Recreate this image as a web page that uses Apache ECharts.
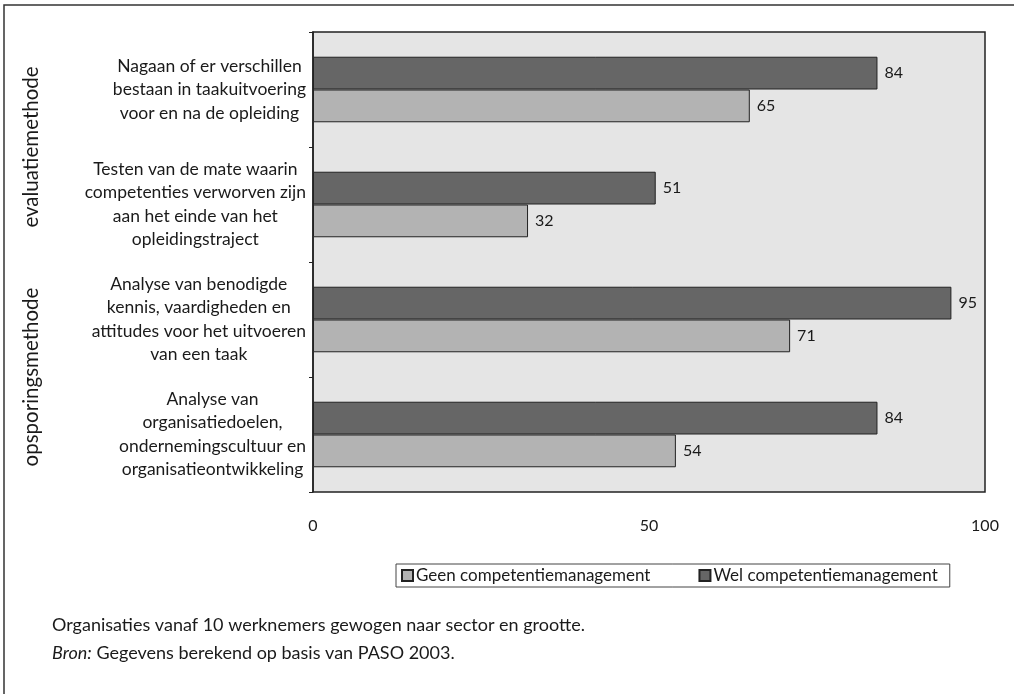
<!DOCTYPE html>
<html>
<head>
<meta charset="utf-8">
<script src="https://cdn.jsdelivr.net/npm/echarts@6/dist/echarts.min.js"></script>
<style>
  html, body { margin: 0; padding: 0; background: #fff; }
  #chart { width: 1014px; height: 694px; }
</style>
</head>
<body>
<div id="chart"></div>
<script>
// categorieën van boven naar beneden
var categories = [
  'Nagaan of er verschillen\nbestaan in taakuitvoering\nvoor en na de opleiding',
  'Testen van de mate waarin\ncompetenties verworven zijn\naan het einde van het\nopleidingstraject',
  'Analyse van benodigde\nkennis, vaardigheden en\nattitudes voor het uitvoeren\nvan een taak',
  'Analyse van\norganisatiedoelen,\nondernemingscultuur en\norganisatieontwikkeling'
]
var groups = ['evaluatiemethode', 'opsporingsmethode']
var geen = [65, 32, 71, 54]
var wel = [84, 51, 95, 84]
var xMin = 0
var xMax = 100
var xStep = 50

var FONT = 'Lato'
var TXT = '#1a1a1a'

var chart = echarts.init(document.getElementById('chart'))
chart.setOption({
  backgroundColor: '#fff',
  textStyle: { fontFamily: FONT, color: TXT },
  // buitenkader
  graphic: [{
    type: 'rect',
    shape: { x: 4, y: 5, width: 1100, height: 1000 },
    style: { fill: 'none', stroke: '#333', lineWidth: 1.5 },
    silent: true
  }],
  title: {
    left: 47,
    top: 606,
    text: '{n|Organisaties vanaf 10 werknemers gewogen naar sector en grootte.}\n{i|Bron:} {n|Gegevens berekend op basis van PASO 2003.}',
    textStyle: {
      fontWeight: 'normal',
      rich: {
        n: { fontFamily: FONT, fontSize: 18, color: TXT, lineHeight: 28 },
        i: { fontFamily: FONT, fontSize: 18, color: TXT, lineHeight: 28, fontStyle: 'italic' }
      }
    }
  },
  legend: {
    left: 396,
    top: 564,
    orient: 'horizontal',
    data: ['Geen competentiemanagement', 'Wel competentiemanagement'],
    icon: 'rect',
    itemWidth: 11,
    itemHeight: 11,
    itemGap: 48,
    padding: [3, 12, 3, 5],
    borderColor: '#444',
    borderWidth: 1,
    textStyle: { fontFamily: FONT, fontSize: 17, color: TXT, padding: [0, 0, 0, -2] }
  },
  grid: {
    left: 313,
    right: 29,
    top: 32,
    bottom: 202,
    show: true,
    backgroundColor: '#e5e5e5',
    borderColor: '#222',
    borderWidth: 1.5
  },
  xAxis: {
    type: 'value',
    min: xMin,
    max: xMax,
    interval: xStep,
    axisLine: { show: false },
    axisTick: { show: false },
    splitLine: { show: false },
    axisLabel: { margin: 26, fontFamily: FONT, fontSize: 16, color: TXT }
  },
  yAxis: [{
    type: 'category',
    inverse: true,
    data: categories,
    axisLine: { show: true, lineStyle: { color: '#222', width: 1.5 } },
    axisTick: { show: true, length: 4, lineStyle: { color: '#222' } },
    axisLabel: {
      interval: 0,
      margin: 7,
      align: 'right',
      formatter: function (v) {
        return v.split('\n').map(function (l) { return '{c|' + l + '}' }).join('\n')
      },
      rich: {
        c: { align: 'center', fontFamily: FONT, fontSize: 17.5, color: TXT, lineHeight: 23.5 }
      }
    }
  }, {
    type: 'category',
    inverse: true,
    position: 'left',
    data: groups,
    axisLine: { show: false },
    axisTick: { show: false },
    axisLabel: { interval: 0, rotate: 90, margin: 271, fontFamily: FONT, fontSize: 20.5, color: TXT }
  }],
  series: [{
    name: 'Wel competentiemanagement',
    type: 'bar',
    data: wel,
    barGap: 0,
    barCategoryGap: '43%',
    itemStyle: { color: '#666666', borderColor: '#222', borderWidth: 1 },
    label: { show: true, position: 'right', distance: 7, fontFamily: FONT, fontSize: 16, color: TXT }
  }, {
    name: 'Geen competentiemanagement',
    type: 'bar',
    data: geen,
    barGap: 0,
    barCategoryGap: '43%',
    itemStyle: { color: '#b3b3b3', borderColor: '#222', borderWidth: 1 },
    label: { show: true, position: 'right', distance: 7, fontFamily: FONT, fontSize: 16, color: TXT }
  }]
})
</script>
</body>
</html>
